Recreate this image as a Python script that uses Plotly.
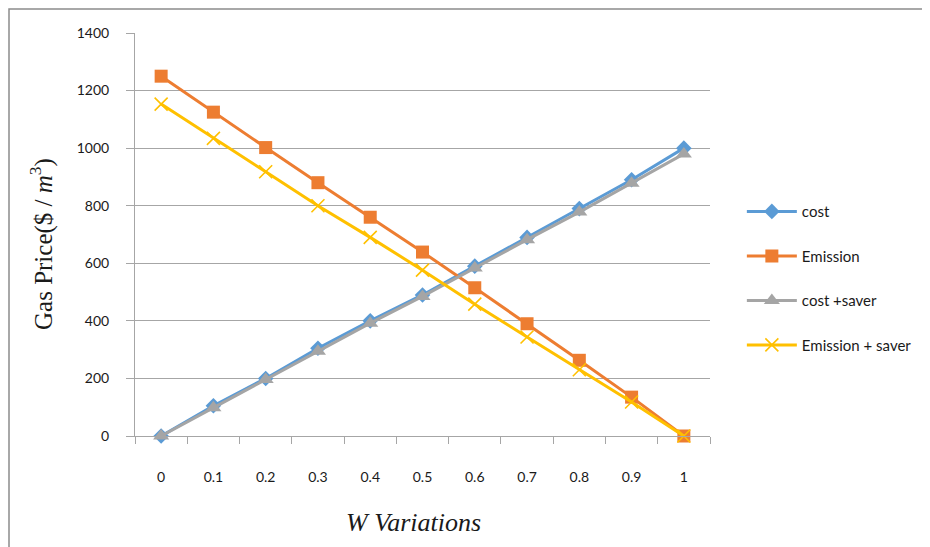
import plotly.graph_objects as go

categories = ["0", "0.1", "0.2", "0.3", "0.4", "0.5", "0.6", "0.7", "0.8", "0.9", "1"]
cost = [0, 105, 200, 305, 400, 490, 590, 690, 790, 890, 1000]
emission = [1250, 1125, 1002, 880, 760, 639, 515, 390, 263, 135, 0]
cost_saver = [0, 98, 196, 294, 392, 485, 584, 682, 778, 878, 980]
emission_saver = [1153, 1034, 918, 800, 690, 576, 458, 344, 230, 118, 0]
y_ticks = [0, 200, 400, 600, 800, 1000, 1200, 1400]

series = [
    ("cost", cost, "#5B9BD5", "diamond", 12, None),
    ("Emission", emission, "#ED7D31", "square", 13, None),
    ("cost +saver", cost_saver, "#A5A5A5", "triangle-up", 14, None),
    ("Emission + saver", emission_saver, "#FFC000", "x-thin", 13, 1.6),
]

fig = go.Figure()
for i, (name, vals, col, sym, size, lw) in enumerate(series):
    marker = dict(symbol=sym, size=size, color=col)
    if lw:
        marker["line"] = dict(color=col, width=lw)
    else:
        marker["line"] = dict(width=0)
    fig.add_trace(go.Scatter(
        x=categories, y=vals, name=name, mode="lines+markers",
        line=dict(color=col, width=3), marker=marker,
        legendgroup=f"g{i}", cliponaxis=False,
    ))

# page body has an 8px margin: plot area drawn at screen (135..710, 33..436)
L, T, PW, PH = 127, 25, 575, 403
grid_col = "#A6A6A6"
fig.update_layout(
    width=930, height=547,
    margin=dict(l=L, r=930 - L - PW, t=T, b=547 - T - PH),
    paper_bgcolor="white", plot_bgcolor="white",
    font=dict(family="Lato", size=14, color="#1a1a1a"),
    showlegend=True,
    legend=dict(x=1.0554, y=0.5976, xanchor="left", yanchor="top",
                tracegroupgap=22, itemwidth=50,
                font=dict(family="Lato", size=15),
                bgcolor="rgba(0,0,0,0)"),
    xaxis=dict(type="category", range=[-0.5, len(categories) - 0.5],
               showgrid=False, showline=True, linecolor=grid_col,
               linewidth=1, ticks="outside", tickson="boundaries", ticklen=7,
               tickcolor=grid_col, ticklabelstandoff=28, zeroline=False),
    yaxis=dict(range=[0, 1400], tickvals=y_ticks, showgrid=True, gridcolor=grid_col,
               gridwidth=1, showline=True, linecolor=grid_col, linewidth=1,
               ticks="outside", ticklen=8, tickcolor=grid_col, ticklabelstandoff=14,
               zeroline=False),
)

fig.add_annotation(
    text="Gas Price($ / <i>m</i><sup>3</sup>)", textangle=-90,
    xref="paper", yref="paper", x=(42 - 135) / PW, y=(436 - 244) / PH,
    xanchor="center", yanchor="middle", showarrow=False,
    font=dict(family="Liberation Serif", size=25, color="#1a1a1a"),
)
fig.add_annotation(
    text="<i>W Variations</i>",
    xref="paper", yref="paper", x=(413 - 135) / PW, y=(436 - 522) / PH,
    xanchor="center", yanchor="middle", showarrow=False,
    font=dict(family="Liberation Serif", size=26, color="#1a1a1a"),
)
# outer chart border (top and left visible)
fig.add_shape(type="rect", xref="paper", yref="paper",
              x0=(1 - L) / PW, x1=(960 - L) / PW,
              y0=(T + PH - 600) / PH, y1=(T + PH - 1) / PH,
              line=dict(color="#8C8C8C", width=1.5), layer="below")

fig.write_html("out.html")
